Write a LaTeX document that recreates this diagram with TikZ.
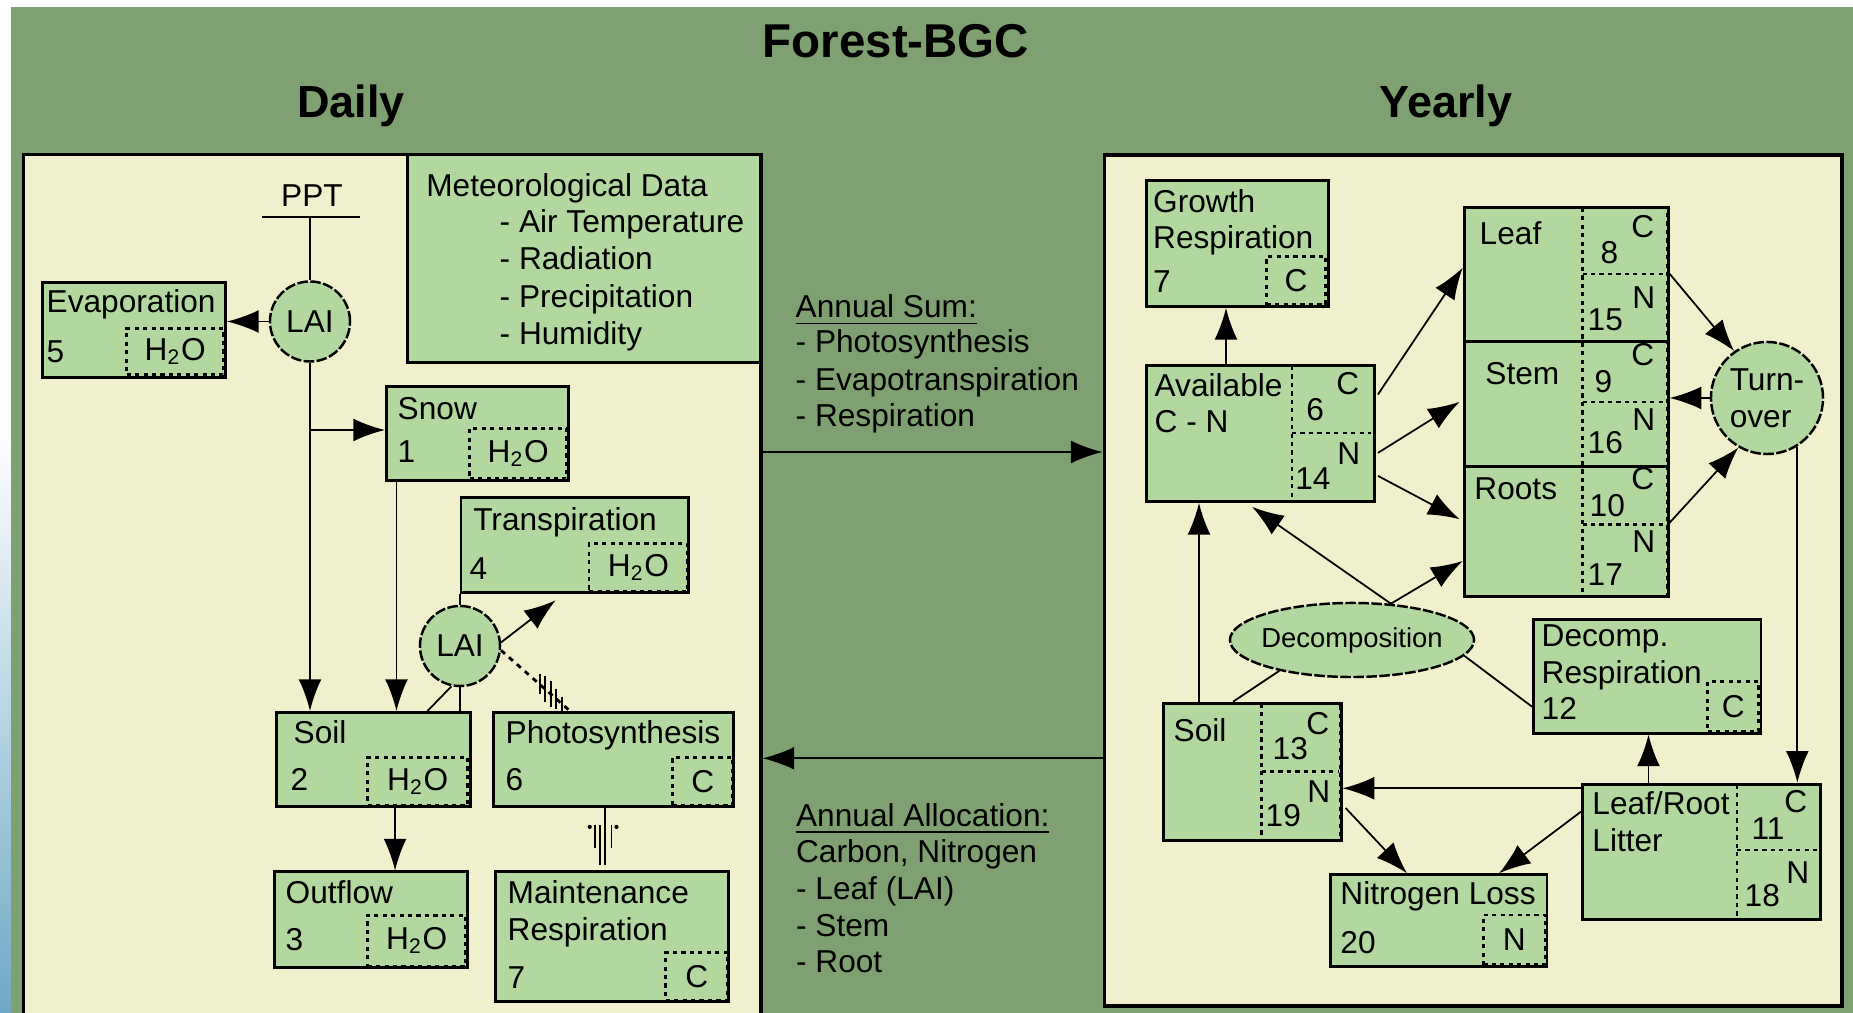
\documentclass[tikz,border=0pt]{standalone}
\usepackage{fontspec}
\setmainfont{Liberation Sans}
\usetikzlibrary{arrows.meta, shapes.geometric, calc}

\definecolor{bggreen}{HTML}{7FA070}
\definecolor{panelcream}{HTML}{F0F0CC}
\definecolor{poolgreen}{HTML}{B2D8A0}
\definecolor{stripblue}{HTML}{6FA8C6}

\newcommand{\boxfont}{\fontsize{9}{10.5}\selectfont}

\tikzset{
  panel/.style={draw, line width=0.9pt, fill=panelcream, anchor=north west, inner sep=0pt},
  pool/.style={draw, line width=0.8pt, fill=poolgreen, anchor=north west, inner sep=0pt},
  unit/.style={draw, line width=0.7pt, dash pattern=on 1.2pt off 1.2pt, anchor=south east, inner sep=0pt, font=\boxfont},
  hatch/.style={line width=0.7pt, dash pattern=on 1.2pt off 1.2pt},
  lbl/.style={anchor=base west, inner sep=0pt, font=\boxfont},
  num/.style={anchor=base east, inner sep=0pt, font=\boxfont},
  lai/.style={draw, circle, fill=poolgreen, line width=0.7pt, dash pattern=on 3pt off 0.7pt, minimum size=0.8cm, inner sep=0pt, font=\boxfont},
  flow/.style={line width=0.5pt, -{Latex[length=9pt, width=6.5pt]}},
  link/.style={line width=0.5pt},
  heading/.style={anchor=base, inner sep=0pt, font=\fontsize{12.8}{15}\bfseries\selectfont},
}

\begin{document}
\begin{tikzpicture}[x=0.01cm, y=-0.01cm]
    \useasboundingbox (0,0) rectangle (1853,1013);
    \clip (0,0) rectangle (1853,1013);

    % Background
    \fill[white] (0,0) rectangle (1853,1013);
    \shade[top color=white, bottom color=stripblue] (0,430) rectangle (11,1013);
    \fill[bggreen] (11,7) rectangle (1853,1013);

    % Headings
    \node[heading, font=\fontsize{13.5}{16}\bfseries\selectfont] (title) at (896,58) {Forest-BGC};
    \node[heading] (daily-t) at (351,118) {Daily};
    \node[heading] (yearly-t) at (1446,118) {Yearly};

    % Panels
    \node[panel, minimum width=7.375cm, minimum height=9cm] (daily) at (21.5,153) {};
    \node[panel, minimum width=7.375cm, minimum height=8.506cm] (yearly) at (1102.5,153.4) {};

    % Meteorological data
    \node[pool, minimum width=3.53cm, minimum height=2.08cm] (met) at (406,153) {};
    \node[lbl] (met-t) at (425.6,197) {Meteorological Data};
    \node[lbl] (met-1) at (499,233) {- Air Temperature};
    \node[lbl] (met-2) at (499,270) {- Radiation};
    \node[lbl] (met-3) at (499,308) {- Precipitation};
    \node[lbl] (met-4) at (499,345) {- Humidity};

    % Precipitation and canopy
    \node[anchor=base, inner sep=0pt, font=\boxfont] (ppt) at (312,207) {PPT};
    \coordinate (ppt-l) at (262,217);
    \coordinate (ppt-r) at (360,217);
    \coordinate (ppt-c) at (310,217);
    \draw[link] (ppt-l) -- (ppt-r);
    \node[lai] (lai1) at (310,321.5) {LAI};
    \draw[link] (ppt-c) -- (lai1);

    % Evaporation
    \node[pool, minimum width=1.83cm, minimum height=0.95cm] (evap) at (41,281) {};
    \node[unit, minimum width=0.97cm, minimum height=0.46cm] (evap-u) at ([shift={(-2,-3)}]evap.south east) {H\textsubscript{2}O};
    \node[lbl] (evap-n) at (46,313) {Evaporation};
    \node[lbl] (evap-k) at (46,363) {5};

    % Snow
    \node[pool, minimum width=1.82cm, minimum height=0.94cm] (snow) at (385,385) {};
    \node[unit, minimum width=0.97cm, minimum height=0.5cm] (snow-u) at ([shift={(-2,-2)}]snow.south east) {H\textsubscript{2}O};
    \node[lbl] (snow-n) at (397,420) {Snow};
    \node[lbl] (snow-k) at (397,463) {1};

    % Transpiration
    \node[pool, minimum width=2.275cm, minimum height=0.95cm] (trans) at (459.5,496) {};
    \node[unit, minimum width=0.985cm, minimum height=0.48cm] (trans-u) at ([shift={(-1,-1)}]trans.south east) {H\textsubscript{2}O};
    \node[lbl] (trans-n) at (472.6,531) {Transpiration};
    \node[lbl] (trans-k) at (469,580) {4};
    \node[lai] (lai2) at (460,646) {LAI};

    % Soil water
    \node[pool, minimum width=1.94cm, minimum height=0.94cm] (soil) at (275,711) {};
    \node[unit, minimum width=1.0cm, minimum height=0.48cm] (soil-u) at ([shift={(-3,-1)}]soil.south east) {H\textsubscript{2}O};
    \node[lbl] (soil-n) at (293,743.6) {Soil};
    \node[lbl] (soil-k) at (290,791) {2};

    % Photosynthesis
    \node[pool, minimum width=2.4cm, minimum height=0.94cm] (photo) at (492,711) {};
    \node[unit, minimum width=0.6cm, minimum height=0.48cm] (photo-u) at ([shift={(-1,-1)}]photo.south east) {C};
    \node[lbl] (photo-n) at (505,743.6) {Photosynthesis};
    \node[lbl] (photo-k) at (505,791) {6};

    % Outflow
    \node[pool, minimum width=1.93cm, minimum height=0.955cm] (out) at (273,870.5) {};
    \node[unit, minimum width=0.98cm, minimum height=0.51cm] (out-u) at ([shift={(-2,-1.3)}]out.south east) {H\textsubscript{2}O};
    \node[lbl] (out-n) at (285,903.5) {Outflow};
    \node[lbl] (out-k) at (285,951) {3};

    % Maintenance respiration
    \node[pool, minimum width=2.33cm, minimum height=1.295cm] (maint) at (494,870.5) {};
    \node[unit, minimum width=0.62cm, minimum height=0.477cm] (maint-u) at ([shift={(-1,-1.3)}]maint.south east) {C};
    \node[lbl] (maint-n) at (507,903.5) {Maintenance};
    \node[lbl] (maint-r) at (507,941) {Respiration};
    \node[lbl] (maint-k) at (507,988.5) {7};

    % Daily flows
    \draw[flow] (lai1.west) -- (lai1.west -| evap.east);
    \coordinate (split) at (310,430);
    \draw[flow] (split) -- (split -| snow.west);
    \draw[flow] (lai1.south) -- (lai1.south |- soil.north);
    \coordinate (melt) at ([shift={(11.5,0)}]snow.south west);
    \draw[flow] (melt) -- (melt |- soil.north);
    \draw[link] (lai2.north) -- (lai2.north |- trans.south);
    \draw[flow, shorten >=3pt] (lai2.5) -- ([shift={(104.5,0)}]trans.south west);
    \draw[link] (lai2.258) -- ([shift={(152.5,0)}]soil.north west);
    \draw[link] (lai2.south) -- (lai2.south |- soil.north);
    \coordinate (drain) at ([shift={(21.6,0)}]soil.south);
    \draw[flow] (drain) -- (drain |- out.north);

    % Canopy to photosynthesis (hatched)
    \coordinate (h1) at (lai2.-6);
    \coordinate (h2) at ([shift={(78,0)}]photo.north west);
    \draw[link, line width=0.8pt, dash pattern=on 1.5pt off 1.5pt] (h1) -- (h2);
    \foreach \t/\l in {0.56/10, 0.64/13, 0.72/13, 0.80/10, 0.88/7}
        \draw[link, line width=0.6pt] ($(h1)!\t!(h2) + (0,-\l)$) -- ++(0,2*\l);

    % Photosynthesis to maintenance (hatched)
    \coordinate (resp) at ([shift={(-8.7,0)}]photo.south);
    \draw[link] (resp) -- ++(0,17);
    \draw[link] ([shift={(-5,17)}]resp) -- ++(0,40);
    \draw[link] ([shift={(0,17)}]resp) -- ++(0,40);
    \draw[link] ([shift={(-10,17)}]resp) -- ++(0,23);
    \draw[link] ([shift={(6.7,17)}]resp) -- ++(0,23);
    \fill ([shift={(-15,19)}]resp) circle (0.6pt);
    \fill ([shift={(11.7,19)}]resp) circle (0.6pt);

    % Annual sums
    \node[lbl] (sum-t) at (795,318) {\underline{Annual Sum:}};
    \node[lbl] (sum-1) at (795,352.4) {- Photosynthesis};
    \node[lbl] (sum-2) at (795,390.7) {- Evapotranspiration};
    \node[lbl] (sum-3) at (795,427) {- Respiration};
    \coordinate (sum) at (930,452);
    \draw[flow] (sum -| daily.east) -- (sum -| yearly.west);

    % Annual allocation
    \node[lbl] (alloc-t) at (795.4,826.7) {\underline{Annual Allocation:}};
    \node[lbl] (alloc-1) at (795.4,863) {Carbon, Nitrogen};
    \node[lbl] (alloc-2) at (795.4,900) {- Leaf (LAI)};
    \node[lbl] (alloc-3) at (795.4,936.7) {- Stem};
    \node[lbl] (alloc-4) at (795.4,973) {- Root};
    \coordinate (alloc) at (930,758.3);
    \draw[flow] (alloc -| yearly.west) -- (alloc -| daily.east);

    % Growth respiration
    \node[pool, minimum width=1.818cm, minimum height=1.26cm] (grow) at (1145,179) {};
    \node[unit, minimum width=0.59cm, minimum height=0.48cm] (grow-u) at ([shift={(-2.8,-2)}]grow.south east) {C};
    \node[lbl] (grow-n) at (1152.5,212.7) {Growth};
    \node[lbl] (grow-r) at (1152.5,249) {Respiration};
    \node[lbl] (grow-k) at (1152.5,293) {7};

    % Available C - N
    \node[pool, minimum width=2.28cm, minimum height=1.36cm] (avail) at (1145,364) {};
    \draw[hatch] ([shift={(147,2)}]avail.north west) rectangle ([shift={(-2,-2)}]avail.south east);
    \draw[hatch] (1292,433) -- (1371,433);
    \node[lbl] (avail-n) at (1154,396.4) {Available};
    \node[lbl] (avail-m) at (1154,433) {C - N};
    \node[num] (avail-c) at (1360,394.5) {C};
    \node[lbl] (avail-k) at (1305.6,421) {6};
    \node[num] (avail-nn) at (1361,465) {N};
    \node[lbl] (avail-j) at (1294.6,490) {14};

    % Leaf, stem, roots
    \node[pool, minimum width=2.04cm, minimum height=1.34cm] (leaf) at (1462.7,205.8) {};
    \node[pool, minimum width=2.04cm, minimum height=1.255cm] (stem) at (1462.7,339.8) {};
    \node[pool, minimum width=2.04cm, minimum height=1.301cm] (roots) at (1462.7,465.3) {};
    \draw[hatch] ([shift={(120,2)}]leaf.north west) rectangle ([shift={(-2,-2)}]roots.south east);
    \foreach \y in {274, 402, 524.6}
        \draw[hatch] (1582.6,\y) -- (1664.7,\y);
    \node[lbl] (leaf-n) at (1479,245) {Leaf};
    \node[num] (leaf-c) at (1655,237.6) {C};
    \node[lbl] (leaf-k) at (1600,264) {8};
    \node[num] (leaf-nn) at (1656,308.4) {N};
    \node[lbl] (leaf-j) at (1587,331) {15};
    \node[lbl] (stem-n) at (1484.7,385) {Stem};
    \node[num] (stem-c) at (1655,365.8) {C};
    \node[lbl] (stem-k) at (1594,392.6) {9};
    \node[num] (stem-nn) at (1656,431) {N};
    \node[lbl] (stem-j) at (1587,453.8) {16};
    \node[lbl] (roots-n) at (1473.7,499.7) {Roots};
    \node[num] (roots-c) at (1655,490) {C};
    \node[lbl] (roots-k) at (1589,517) {10};
    \node[num] (roots-nn) at (1656,553) {N};
    \node[lbl] (roots-j) at (1587,585.8) {17};

    % Turnover
    \node[lai, minimum size=1.12cm, align=left] (turn) at (1767,398) {Turn-\\over};

    % Decomposition
    \node[draw, ellipse, fill=poolgreen, line width=0.7pt, dash pattern=on 3pt off 0.7pt, minimum width=2.44cm, minimum height=0.74cm, inner sep=0pt] (decomp) at (1352,640) {};
    \node[inner sep=0pt, font=\fontsize{7.8}{9}\selectfont] (decomp-t) at (decomp) {Decomposition};

    % Decomposition respiration
    \node[pool, minimum width=2.275cm, minimum height=1.137cm] (dresp) at (1532,618) {};
    \node[unit, minimum width=0.51cm, minimum height=0.497cm] (dresp-u) at ([shift={(-2.5,-2)}]dresp.south east) {C};
    \node[lbl] (dresp-n) at (1541,647) {Decomp.};
    \node[lbl] (dresp-r) at (1541,683.4) {Respiration};
    \node[lbl] (dresp-k) at (1541,720) {12};

    % Soil C - N
    \node[pool, minimum width=1.777cm, minimum height=1.376cm] (humus) at (1162,701.7) {};
    \draw[hatch] ([shift={(99.6,2)}]humus.north west) rectangle ([shift={(-2,-2)}]humus.south east);
    \draw[hatch] (1261.6,771.7) -- (1337.7,771.7);
    \node[lbl] (humus-n) at (1173,741.7) {Soil};
    \node[num] (humus-c) at (1330,735) {C};
    \node[lbl] (humus-k) at (1272,760) {13};
    \node[num] (humus-nn) at (1331,803) {N};
    \node[lbl] (humus-j) at (1265,826.7) {19};

    % Leaf/root litter
    \node[pool, minimum width=2.378cm, minimum height=1.356cm] (litter) at (1581,782.7) {};
    \draw[hatch] ([shift={(156,2)}]litter.north west) rectangle ([shift={(-2,-2)}]litter.south east);
    \draw[hatch] (1737,850) -- (1816.8,850);
    \node[lbl] (litter-n) at (1591.7,815) {Leaf/Root};
    \node[lbl] (litter-m) at (1591.7,851.7) {Litter};
    \node[num] (litter-c) at (1808,813) {C};
    \node[lbl] (litter-k) at (1751,840) {11};
    \node[num] (litter-nn) at (1810,883.3) {N};
    \node[lbl] (litter-j) at (1744,906.7) {18};

    % Nitrogen loss
    \node[pool, minimum width=2.165cm, minimum height=0.917cm] (nloss) at (1329,873.3) {};
    \node[unit, minimum width=0.618cm, minimum height=0.497cm] (nloss-u) at ([shift={(-2,-2)}]nloss.south east) {N};
    \node[lbl] (nloss-n) at (1339.7,905) {Nitrogen Loss};
    \node[lbl] (nloss-k) at (1339.7,953.3) {20};

    % Yearly flows
    \coordinate (gr) at ([shift={(81,0)}]avail.north west);
    \draw[flow] (gr) -- (gr |- grow.south);
    \draw[flow] ([shift={(2,30.5)}]avail.north east) -- ([shift={(0,62)}]leaf.north west);
    \draw[flow] ([shift={(2,-50)}]avail.south east) -- ([shift={(-3,62)}]stem.north west);
    \draw[flow] ([shift={(2,-27)}]avail.south east) -- ([shift={(-3,54)}]roots.north west);
    \draw[flow] ([shift={(0,68)}]leaf.north east) -- (turn.125);
    \draw[flow] (turn.west) -- (turn.west -| stem.east);
    \draw[flow] ([shift={(0,57.4)}]roots.north east) -- (turn.240);
    \coordinate (fall) at (turn.-58);
    \draw[flow] (fall) -- (fall |- litter.north);
    \coordinate (up) at ([shift={(37,0)}]humus.north west);
    \draw[flow] (up) -- (up |- avail.south);
    \coordinate (dtop) at (decomp.43);
    \draw[flow, shorten >=2pt] (dtop) -- ([shift={(101.4,0)}]avail.south west);
    \draw[flow] (dtop) -- ([shift={(0,95.7)}]roots.north west);
    \draw[link] (decomp.203) -- ([shift={(71,0)}]humus.north west);
    \draw[link] (decomp.-8) -- ([shift={(0,88.7)}]dresp.north west);
    \coordinate (lit) at ([shift={(0,5.6)}]litter.north west);
    \draw[flow] (lit) -- (lit -| humus.east);
    \coordinate (cr) at ([shift={(67.5,0)}]litter.north west);
    \draw[flow] (cr) -- (cr |- dresp.south);
    \draw[flow] ([shift={(3,106.3)}]humus.north east) -- ([shift={(78,0)}]nloss.north west);
    \draw[flow] ([shift={(0,29)}]litter.north west) -- ([shift={(170,0)}]nloss.north west);
\end{tikzpicture}
\end{document}
